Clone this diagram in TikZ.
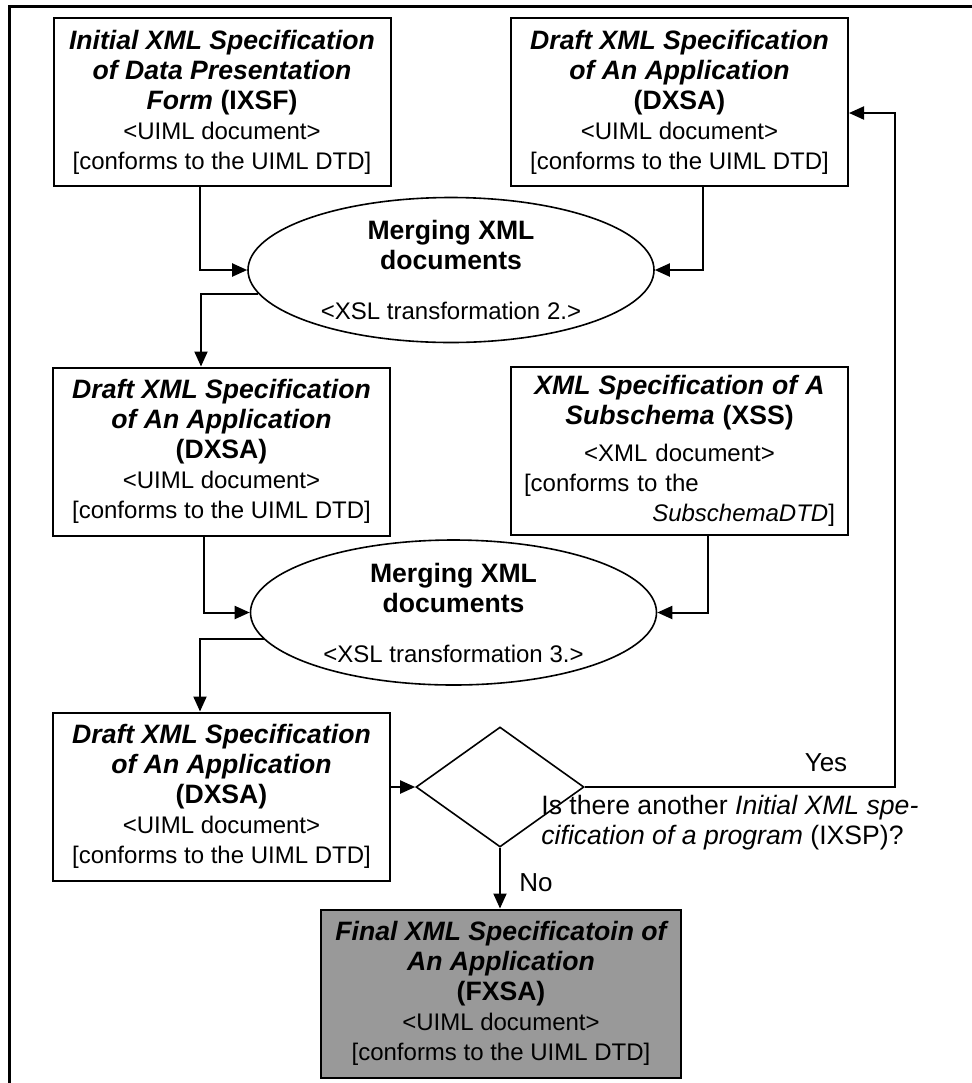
\documentclass[tikz,border=0pt]{standalone}
\usepackage{fontspec}
\setmainfont{Liberation Sans}
\usetikzlibrary{shapes.geometric,arrows.meta}
% bold headings are set a little larger than the body lines
\newcommand\spectitle[1]{{\fontsize{13.3}{15}\selectfont\bfseries #1}}
\begin{document}
\begin{tikzpicture}[x=0.5pt,y=-0.5pt,
  every node/.style={font=\fontsize{12}{15}\selectfont},
  spec/.style={draw,line width=1pt,rectangle,inner sep=0pt,
    minimum width=168.5pt,minimum height=84pt,align=center},
  merge/.style={draw,line width=0.8pt,ellipse,inner sep=0pt,
    minimum width=203pt,minimum height=72.5pt,align=center},
  choice/.style={draw,line width=0.8pt,diamond,inner sep=0pt,
    minimum width=84pt,minimum height=60pt},
  flow/.style={line width=1pt,-{Triangle[length=7.5pt,width=6.5pt]}},
  answer/.style={font=\fontsize{13}{15}\selectfont,inner sep=0pt}]

\useasboundingbox (0,0) rectangle (971,1083);

% outer frame (top and left edges)
\draw[line width=1.5pt] (975,6) -- (9,6) -- (9,1090);

% specification boxes
\node[spec] (b1) at (222,102)
  {\spectitle{\itshape Initial XML Specification}\\
   \spectitle{\itshape of Data Presentation}\\
   \spectitle{\textit{Form} (IXSF)}\\
   <UIML document>\\{}[conforms to the UIML DTD]};
\node[spec] (b2) at (679.5,102)
  {\spectitle{\itshape Draft XML Specification}\\
   \spectitle{\itshape of An Application}\\
   \spectitle{(DXSA)}\\
   <UIML document>\\{}[conforms to the UIML DTD]};

\node[merge] (e1) at (451,270)
  {\spectitle{Merging XML}\\\spectitle{documents}\\[10pt]<XSL transformation 2.>};

\node[spec] (b3) at (221.5,451.5)
  {\spectitle{\itshape Draft XML Specification}\\
   \spectitle{\itshape of An Application}\\
   \spectitle{(DXSA)}\\
   <UIML document>\\{}[conforms to the UIML DTD]};
\node[spec,text width=155.5pt] (b4) at (679.5,451)
  {\spectitle{\textit{XML Specification of A}}\\
   \spectitle{\textit{Subschema} (XSS)}\\[3.5pt]
   <XML document>\\
   \makebox[\linewidth][l]{[conforms to the}\\
   \makebox[\linewidth][r]{\textit{SubschemaDTD}]}};

\node[merge] (e2) at (453.5,612.5)
  {\spectitle{Merging XML}\\\spectitle{documents}\\[10pt]<XSL transformation 3.>};

\node[spec] (b5) at (221.5,796.5)
  {\spectitle{\itshape Draft XML Specification}\\
   \spectitle{\itshape of An Application}\\
   \spectitle{(DXSA)}\\
   <UIML document>\\{}[conforms to the UIML DTD]};

\node[choice] (d) at (500,787) {};

\node[spec,fill=black!40,minimum width=180pt] (b6) at (501,993.5)
  {\spectitle{\itshape Final XML Specificatoin of}\\
   \spectitle{\itshape An Application}\\
   \spectitle{(FXSA)}\\
   <UIML document>\\{}[conforms to the UIML DTD]};

% decision texts
\node[font=\fontsize{13.3}{15}\selectfont,inner sep=0pt,anchor=west,align=left] (q) at (541,823)
  {Is there another \textit{Initial XML spe-}\\\textit{cification of a program} (IXSP)?};
\node[answer] (yes) at (826,763) {Yes};
\node[answer] (no) at (536,883) {No};

% connectors
\draw[flow] ([xshift=-11pt]b1.south) |- (e1.west);
\draw[flow] ([xshift=11.75pt]b2.south) |- (e1.east);
\draw[flow] (e1.187.5) -| ([xshift=-10.25pt]b3.north);
\draw[flow] ([xshift=-8.75pt]b3.south) |- (e2.west);
\draw[flow] ([xshift=14.25pt]b4.south) |- (e2.east);
\draw[flow] (e2.188) -| ([xshift=-10.75pt]b5.north);
\draw[flow] (b5.east |- d.west) -- (d.west);
\coordinate (loop) at (895,787);
\draw[flow] (d.east) -- (loop) |- ([yshift=-5.5pt]b2.east);
\draw[flow] (d.south) -- (d.south |- b6.north);

\end{tikzpicture}
\end{document}
